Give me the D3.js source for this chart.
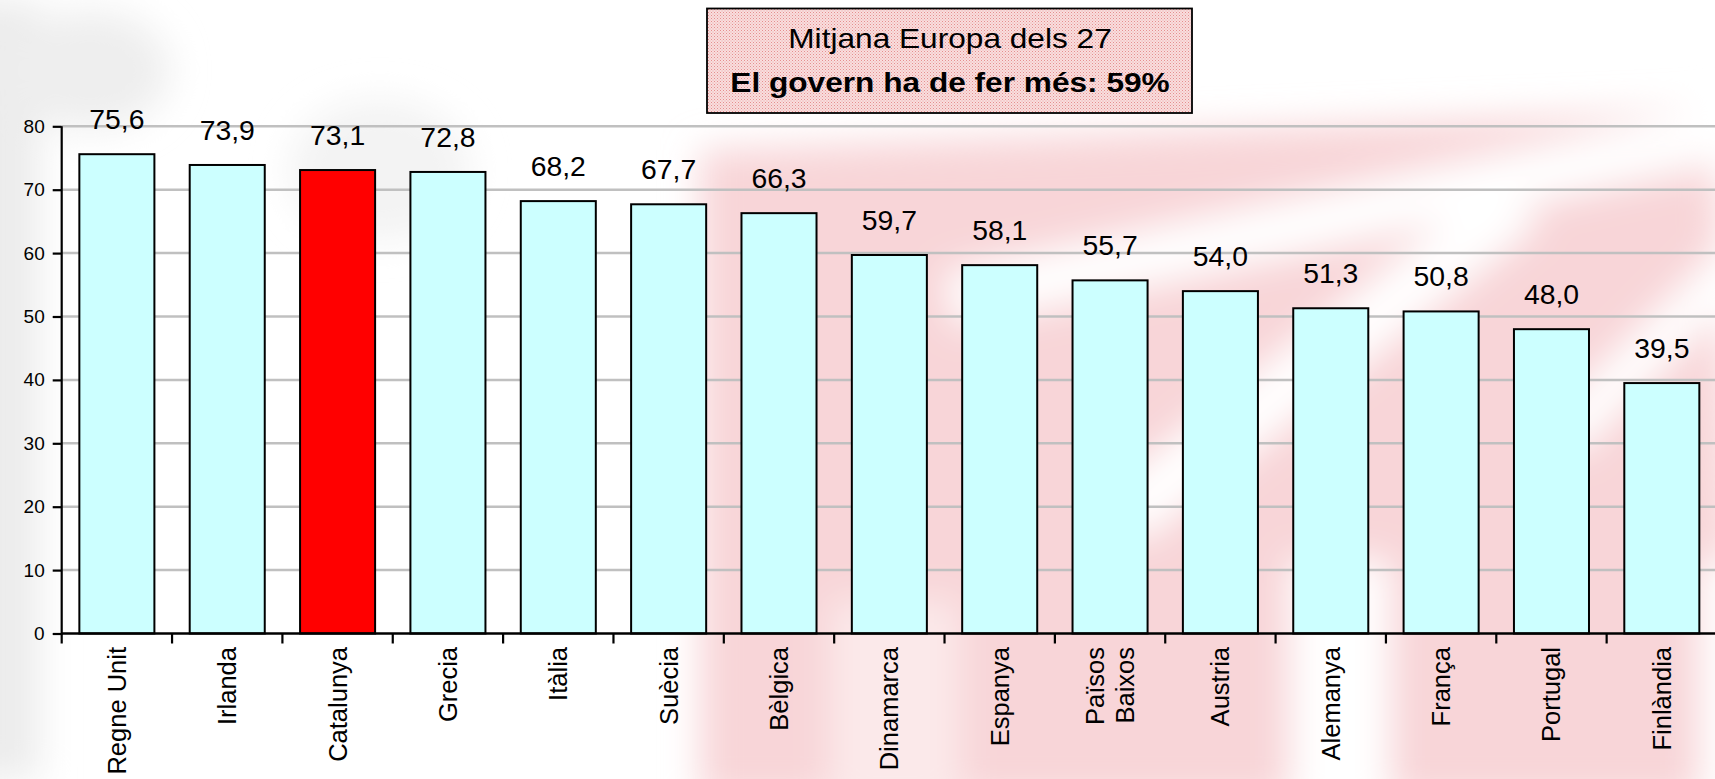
<!DOCTYPE html>
<html>
<head>
<meta charset="utf-8">
<script src="https://cdn.jsdelivr.net/npm/d3@7"></script>
<style>
  html, body { margin: 0; padding: 0; background: #ffffff; }
  svg { display: block; font-family: "Liberation Sans", Arial, sans-serif; }
</style>
</head>
<body>
<svg id="chart" width="1715" height="779"></svg>
<script>
// ---- data ----
const categories = ["Regne Unit", "Irlanda", "Catalunya", "Grecia", "Itàlia", "Suècia", "Bèlgica",
  "Dinamarca", "Espanya", "Països\nBaixos", "Austria", "Alemanya", "França", "Portugal", "Finlàndia"];
const values = [75.6, 73.9, 73.1, 72.8, 68.2, 67.7, 66.3, 59.7, 58.1, 55.7, 54.0, 51.3, 50.8, 48.0, 39.5];
const highlighted = ["Catalunya"];
const yTicks = [0, 10, 20, 30, 40, 50, 60, 70, 80];
const titleLines = ["Mitjana Europa dels 27", "El govern ha de fer més: 59%"];

// ---- layout ----
const W = 1715, H = 779;
const svg = d3.select("#chart");
const defs = svg.append("defs");

defs.append("filter").attr("id", "blur").attr("x", "-20%").attr("y", "-20%").attr("width", "140%").attr("height", "140%")
  .append("feGaussianBlur").attr("stdDeviation", 18);

const pat = defs.append("pattern").attr("id", "dots").attr("patternUnits", "userSpaceOnUse")
  .attr("width", 3).attr("height", 3);
pat.append("rect").attr("width", 3).attr("height", 3).attr("fill", "#f9dede");
pat.append("rect").attr("x", 0).attr("y", 0).attr("width", 1).attr("height", 1).attr("fill", "#e58f8f");
pat.append("rect").attr("x", 1.5).attr("y", 1.5).attr("width", 1).attr("height", 1).attr("fill", "#eca8a8");

// background watermark (faded)
svg.append("rect").attr("width", W).attr("height", H).attr("fill", "#ffffff");
const bg = svg.append("g").attr("filter", "url(#blur)");
bg.append("rect").attr("x", -40).attr("y", 0).attr("width", 80).attr("height", H).attr("fill", "#ececec");
bg.append("ellipse").attr("cx", 90).attr("cy", 70).attr("rx", 80).attr("ry", 60).attr("fill", "#eeeeee");
bg.append("ellipse").attr("cx", 380).attr("cy", 170).attr("rx", 90).attr("ry", 70).attr("fill", "#f3f3f3");
bg.append("polygon").attr("points", "700,150 1715,110 1740,800 700,800").attr("fill", "#f8d5d8");
bg.append("line").attr("x1", 950).attr("y1", 300).attr("x2", 1740).attr("y2", 130)
  .attr("stroke", "#ffffff").attr("stroke-width", 55);
bg.append("line").attr("x1", 1120).attr("y1", 520).attr("x2", 1520).attr("y2", 200)
  .attr("stroke", "#ffffff").attr("stroke-width", 60);
bg.append("line").attr("x1", 1560).attr("y1", 440).attr("x2", 1760).attr("y2", 240)
  .attr("stroke", "#ffffff").attr("stroke-width", 45);
bg.append("rect").attr("x", 1290).attr("y", 560).attr("width", 100).attr("height", 260).attr("fill", "#ffffff");
bg.append("rect").attr("x", 1700).attr("y", 560).attr("width", 60).attr("height", 260).attr("fill", "#ffffff");
bg.append("rect").attr("x", 830).attr("y", 600).attr("width", 130).attr("height", 220).attr("fill", "#fbe9ea");

// scales
const x = d3.scaleBand().domain(categories).range([61.7, 1717]).paddingInner(0.32).paddingOuter(0.16);
const y = d3.scaleLinear().domain([0, 80]).range([633.5, 126.3]);

// gridlines
svg.append("g").selectAll("line").data(yTicks.filter(d => d > 0)).join("line")
  .attr("x1", 62).attr("x2", W).attr("y1", d => y(d)).attr("y2", d => y(d))
  .attr("stroke", "#c0c0c0").attr("stroke-width", 2.5);

// bars
svg.append("g").selectAll("rect").data(values).join("rect")
  .attr("x", (d, i) => x(categories[i]))
  .attr("y", d => y(d))
  .attr("width", x.bandwidth())
  .attr("height", d => y(0) - y(d))
  .attr("fill", (d, i) => highlighted.includes(categories[i]) ? "#ff0000" : "#ccffff")
  .attr("stroke", "#000000").attr("stroke-width", 2);

// value labels
const fmt = d => d3.format(".1f")(d).replace(".", ",");
svg.append("g").selectAll("text").data(values).join("text")
  .attr("transform", (d, i) => `translate(${x(categories[i]) + x.bandwidth() / 2},${y(d) - 25}) scale(1.05,1)`)
  .attr("text-anchor", "middle")
  .attr("font-size", 27)
  .attr("fill", "#000")
  .text(d => fmt(d));

// y axis
const yAxis = d3.axisLeft(y).tickValues(yTicks).tickSize(9).tickPadding(8).tickFormat(d3.format("d"));
const gy = svg.append("g").attr("transform", "translate(61.7,0)").call(yAxis);
gy.select(".domain").attr("stroke", "#000").attr("stroke-width", 2.2).attr("d", `M0,${y(80)}V${y(0) + 1}`);
gy.selectAll(".tick line").attr("stroke", "#000").attr("stroke-width", 2.2);
gy.selectAll(".tick text").attr("font-size", 19).attr("font-family", "Liberation Sans, Arial, sans-serif").attr("fill", "#000");

// x axis
svg.append("line").attr("x1", 61.7).attr("x2", W).attr("y1", y(0)).attr("y2", y(0))
  .attr("stroke", "#000").attr("stroke-width", 2.5);
const step = x.step();
const boundaries = d3.range(categories.length + 1).map(i => 61.7 + i * step);
svg.append("g").selectAll("line").data(boundaries).join("line")
  .attr("x1", d => d).attr("x2", d => d).attr("y1", y(0)).attr("y2", y(0) + 10)
  .attr("stroke", "#000").attr("stroke-width", 2.2);

// category labels
const catG = svg.append("g");
categories.forEach(c => {
  const cx = x(c) + x.bandwidth() / 2;
  const lines = c.split("\n");
  const t = catG.append("text")
    .attr("transform", `translate(${cx},647) rotate(-90)`)
    .attr("text-anchor", "end")
    .attr("font-size", 25.5)
    .attr("fill", "#000");
  lines.forEach((ln, k) => {
    t.append("tspan").attr("x", 0)
      .attr("dy", k === 0 ? (0.35 - (lines.length - 1) * 0.6) + "em" : "1.2em")
      .text(ln);
  });
});

// title box
const box = svg.append("g");
box.append("rect").attr("x", 707).attr("y", 8.5).attr("width", 485).attr("height", 104.5)
  .attr("fill", "url(#dots)").attr("stroke", "#000").attr("stroke-width", 1.8);
box.selectAll("text").data(titleLines).join("text")
  .attr("transform", (d, i) => `translate(950,${i === 0 ? 48 : 92}) scale(1.13,1)`)
  .attr("text-anchor", "middle")
  .attr("font-size", 28)
  .attr("font-weight", (d, i) => i === 1 ? "bold" : "normal")
  .attr("fill", "#000")
  .text(d => d);
</script>
</body>
</html>
